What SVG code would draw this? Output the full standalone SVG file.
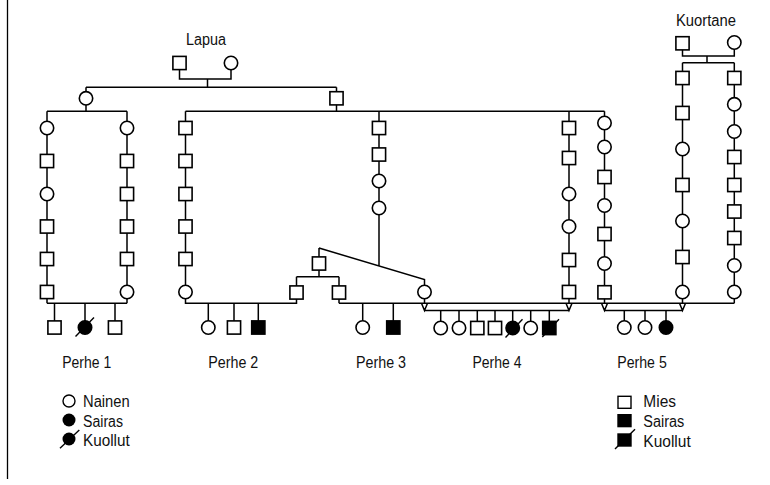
<svg xmlns="http://www.w3.org/2000/svg" xmlns:xlink="http://www.w3.org/1999/xlink" width="770" height="485" viewBox="0 0 770 485">
<style>
.ln{stroke:#000;stroke-width:1.5;fill:none}
.o{fill:#fff;stroke:#000;stroke-width:1.6}
.f{fill:#000;stroke:#000;stroke-width:1.6}
.d{stroke:#000;stroke-width:1.4;fill:none}
text{font-family:"Liberation Sans",Arial,sans-serif;font-size:16px;fill:#111}
.t{text-anchor:middle}
</style>
<defs>
<rect id="sq" x="-6.6" y="-6.6" width="13.2" height="13.2"/>
<circle id="ci" r="6.7"/>
</defs>
<rect width="770" height="485" fill="#fff"/>
<line x1="7.5" y1="0" x2="7.5" y2="479" stroke="#000" stroke-width="1.3"/>
<g id="connectors" class="ln">
<path d="M179.5,63 V79 H231 V63 M207.5,79 V87.3 M86,87.3 H336.5 M86,87.3 V98 M336.5,87.3 V111.3"/>
<path d="M86,98 V111.3 M47,111.3 H127 M185.5,111.3 H604.5"/>
<path d="M47,111.3 V303.3 M127,111.3 V303.3 M47,303.3 H127 M54.5,303.3 V327.5 M85,303.3 V327.5 M115,303.3 V327.5"/>
<path d="M185.5,111.3 V303.3 H296.5 V292.5 M208.3,303.3 V327.5 M234,303.3 V327.5 M258.3,303.3 V327.5"/>
<path d="M379,111.3 V266 M319,248 L424.5,279.6 V303.3 M319,248 V276.7 M296.5,276.7 H339 M296.5,276.7 V292.5 M339,276.7 V303.3 M362.7,303.3 V327.5 M393.3,303.3 V327.5"/>
<path d="M339,303.3 H734.3 M569,111.3 V303.3 M604.5,111.3 V303.3"/>
<path d="M682.5,43 V56 H734.3 V43 M707,56 V62.7 M682.5,62.7 H734.3 M682.5,62.7 V303.3 M734.3,62.7 V303.3"/>
<path d="M424.5,310.5 H569 M604.5,310.5 H682.5"/>
<path d="M421.5,303.3 L424.5,310.5 L427.5,303.3 M566,303.3 L569,310.5 L572,303.3 M601.5,303.3 L604.5,310.5 L607.5,303.3 M679.5,303.3 L682.5,310.5 L685.5,303.3"/>
<path d="M440.7,310.5 V328 M459,310.5 V328 M477.3,310.5 V328 M495,310.5 V328 M512.7,310.5 V328 M530.7,310.5 V328 M549.3,310.5 V328"/>
<path d="M624.3,310.5 V327.5 M645,310.5 V327.5 M666,310.5 V327.5"/>
</g>
<g id="lapua-m"><use href="#sq" class="o" x="179.5" y="63"/></g>
<g id="lapua-f"><use href="#ci" class="o" x="231" y="63"/></g>
<g id="g2-f"><use href="#ci" class="o" x="86" y="98.3"/></g>
<g id="g2-m"><use href="#sq" class="o" x="336.5" y="98.3"/></g>
<g id="a1"><use href="#ci" class="o" x="47" y="128"/></g>
<g id="a2"><use href="#sq" class="o" x="47" y="161"/></g>
<g id="a3"><use href="#ci" class="o" x="47" y="194"/></g>
<g id="a4"><use href="#sq" class="o" x="47" y="226.5"/></g>
<g id="a5"><use href="#sq" class="o" x="47" y="259"/></g>
<g id="a6"><use href="#sq" class="o" x="47" y="292"/></g>
<g id="b1"><use href="#ci" class="o" x="127" y="128"/></g>
<g id="b2"><use href="#sq" class="o" x="127" y="161"/></g>
<g id="b3"><use href="#sq" class="o" x="127" y="194"/></g>
<g id="b4"><use href="#sq" class="o" x="127" y="226.5"/></g>
<g id="b5"><use href="#sq" class="o" x="127" y="259"/></g>
<g id="b6"><use href="#ci" class="o" x="127" y="292"/></g>
<g id="p1-c1"><use href="#sq" class="o" x="54.5" y="327.5"/></g>
<g id="p1-c2"><use href="#ci" class="f" x="85" y="327.5"/><line class="d" x1="75.5" y1="336.5" x2="94" y2="317.5"/></g>
<g id="p1-c3"><use href="#sq" class="o" x="115" y="327.5"/></g>
<g id="c1"><use href="#sq" class="o" x="185.5" y="128"/></g>
<g id="c2"><use href="#sq" class="o" x="185.5" y="161"/></g>
<g id="c3"><use href="#sq" class="o" x="185.5" y="194"/></g>
<g id="c4"><use href="#sq" class="o" x="185.5" y="226.5"/></g>
<g id="c5"><use href="#sq" class="o" x="185.5" y="259"/></g>
<g id="c6"><use href="#ci" class="o" x="185.5" y="292"/></g>
<g id="d1"><use href="#sq" class="o" x="379" y="128"/></g>
<g id="d2"><use href="#sq" class="o" x="379" y="154.5"/></g>
<g id="d3"><use href="#ci" class="o" x="379" y="181"/></g>
<g id="d4"><use href="#ci" class="o" x="379" y="208"/></g>
<g id="x1"><use href="#sq" class="o" x="319" y="263.5"/></g>
<g id="x2"><use href="#sq" class="o" x="296.5" y="292.5"/></g>
<g id="x3"><use href="#sq" class="o" x="339" y="292.5"/></g>
<g id="x4"><use href="#ci" class="o" x="424.5" y="292"/></g>
<g id="p2-c1"><use href="#ci" class="o" x="208.3" y="327.5"/></g>
<g id="p2-c2"><use href="#sq" class="o" x="234" y="327.5"/></g>
<g id="p2-c3"><use href="#sq" class="f" x="258.3" y="327.5"/></g>
<g id="p3-c1"><use href="#ci" class="o" x="362.7" y="327.5"/></g>
<g id="p3-c2"><use href="#sq" class="f" x="393.3" y="327.5"/></g>
<g id="e1"><use href="#sq" class="o" x="569" y="128"/></g>
<g id="e2"><use href="#sq" class="o" x="569" y="158"/></g>
<g id="e3"><use href="#ci" class="o" x="569" y="194"/></g>
<g id="e4"><use href="#ci" class="o" x="569" y="226.5"/></g>
<g id="e5"><use href="#sq" class="o" x="569" y="260"/></g>
<g id="e6"><use href="#sq" class="o" x="569" y="292"/></g>
<g id="p4-c1"><use href="#ci" class="o" x="440.7" y="328"/></g>
<g id="p4-c2"><use href="#ci" class="o" x="459" y="328"/></g>
<g id="p4-c3"><use href="#sq" class="o" x="477.3" y="328"/></g>
<g id="p4-c4"><use href="#sq" class="o" x="495" y="328"/></g>
<g id="p4-c5"><use href="#ci" class="f" x="512.7" y="328"/><line class="d" x1="505.5" y1="337.5" x2="522.5" y2="319.3"/></g>
<g id="p4-c6"><use href="#ci" class="o" x="530.7" y="328"/></g>
<g id="p4-c7"><use href="#sq" class="f" x="549.3" y="328"/><line class="d" x1="542.3" y1="337" x2="559" y2="319.3"/></g>
<g id="f1"><use href="#ci" class="o" x="604.5" y="123"/></g>
<g id="f2"><use href="#ci" class="o" x="604.5" y="147"/></g>
<g id="f3"><use href="#sq" class="o" x="604.5" y="177"/></g>
<g id="f4"><use href="#ci" class="o" x="604.5" y="205.5"/></g>
<g id="f5"><use href="#sq" class="o" x="604.5" y="234"/></g>
<g id="f6"><use href="#ci" class="o" x="604.5" y="263.5"/></g>
<g id="f7"><use href="#sq" class="o" x="604.5" y="292.3"/></g>
<g id="kuortane-m"><use href="#sq" class="o" x="682.5" y="43.3"/></g>
<g id="kuortane-f"><use href="#ci" class="o" x="734.3" y="42.5"/></g>
<g id="g1"><use href="#sq" class="o" x="682.5" y="78"/></g>
<g id="g2"><use href="#sq" class="o" x="682.5" y="113"/></g>
<g id="g3"><use href="#ci" class="o" x="682.5" y="149"/></g>
<g id="g4"><use href="#sq" class="o" x="682.5" y="185"/></g>
<g id="g5"><use href="#ci" class="o" x="682.5" y="221"/></g>
<g id="g6"><use href="#sq" class="o" x="682.5" y="257"/></g>
<g id="g7"><use href="#ci" class="o" x="682.5" y="292"/></g>
<g id="h1"><use href="#sq" class="o" x="734.3" y="78"/></g>
<g id="h2"><use href="#ci" class="o" x="734.3" y="104.3"/></g>
<g id="h3"><use href="#ci" class="o" x="734.3" y="131.5"/></g>
<g id="h4"><use href="#sq" class="o" x="734.3" y="157"/></g>
<g id="h5"><use href="#sq" class="o" x="734.3" y="185"/></g>
<g id="h6"><use href="#sq" class="o" x="734.3" y="211.5"/></g>
<g id="h7"><use href="#sq" class="o" x="734.3" y="238"/></g>
<g id="h8"><use href="#ci" class="o" x="734.3" y="265.5"/></g>
<g id="h9"><use href="#ci" class="o" x="734.3" y="292"/></g>
<g id="p5-c1"><use href="#ci" class="o" x="624.3" y="327.5"/></g>
<g id="p5-c2"><use href="#ci" class="o" x="645" y="327.5"/></g>
<g id="p5-c3"><use href="#ci" class="f" x="666" y="327.5"/></g>
<g id="labels">
<text class="t" x="206" y="45" textLength="40" lengthAdjust="spacingAndGlyphs">Lapua</text>
<text class="t" x="706" y="25.7" textLength="60" lengthAdjust="spacingAndGlyphs">Kuortane</text>
<text class="t" x="86.7" y="368" textLength="49" lengthAdjust="spacingAndGlyphs">Perhe 1</text>
<text class="t" x="233.3" y="367.5" textLength="50" lengthAdjust="spacingAndGlyphs">Perhe 2</text>
<text class="t" x="381" y="367.5" textLength="50" lengthAdjust="spacingAndGlyphs">Perhe 3</text>
<text class="t" x="497" y="367.5" textLength="49" lengthAdjust="spacingAndGlyphs">Perhe 4</text>
<text class="t" x="642" y="367.5" textLength="49.5" lengthAdjust="spacingAndGlyphs">Perhe 5</text>
</g>
<g id="legend-left">
<circle cx="69" cy="401" r="6" fill="#fff" stroke="#000" stroke-width="1.4"/>
<circle cx="69" cy="420" r="6.5" fill="#000"/>
<circle cx="69" cy="439" r="6.5" fill="#000"/>
<line class="d" x1="60" y1="448.3" x2="79.3" y2="430"/>
<text x="83" y="406.5" textLength="46.7" lengthAdjust="spacingAndGlyphs">Nainen</text>
<text x="83" y="426.5" textLength="40" lengthAdjust="spacingAndGlyphs">Sairas</text>
<text x="83" y="446.3" textLength="46.7" lengthAdjust="spacingAndGlyphs">Kuollut</text>
</g>
<g id="legend-right">
<rect x="618" y="396.3" width="13" height="12" fill="#fff" stroke="#000" stroke-width="1.4"/>
<rect x="617.3" y="414" width="14.4" height="13.3" fill="#000"/>
<rect x="617.3" y="433.3" width="14.4" height="13.4" fill="#000"/>
<line class="d" x1="615" y1="449" x2="635" y2="429.3"/>
<text x="643.3" y="406.5" textLength="32.7" lengthAdjust="spacingAndGlyphs">Mies</text>
<text x="643.3" y="426.8" textLength="41" lengthAdjust="spacingAndGlyphs">Sairas</text>
<text x="643.3" y="446.5" textLength="47.4" lengthAdjust="spacingAndGlyphs">Kuollut</text>
</g>
</svg>
